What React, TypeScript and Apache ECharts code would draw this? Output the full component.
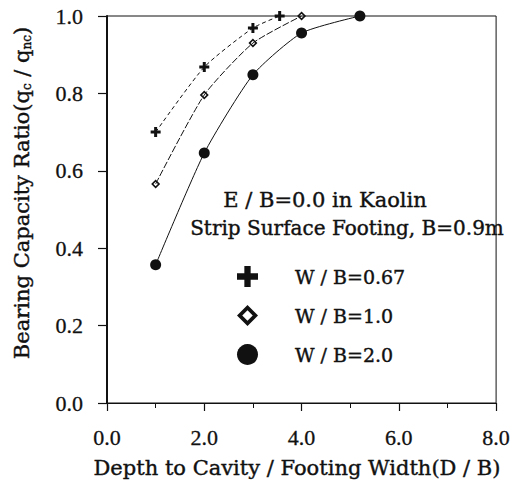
import React, { useEffect, useRef } from "react";
import * as echarts from "echarts";

const seriesNames = ["W / B=0.67", "W / B=1.0", "W / B=2.0"];
const plusX = [1.0, 2.0, 3.0, 3.55];
const plusY = [0.70, 0.868, 0.969, 1.0];
const diamondX = [1.0, 2.0, 3.0, 4.0];
const diamondY = [0.566, 0.796, 0.93, 1.0];
const circleX = [1.0, 2.0, 3.0, 4.0, 5.2];
const circleY = [0.357, 0.646, 0.848, 0.956, 1.0];
const noteLines = ["E / B=0.0 in Kaolin", "Strip Surface Footing, B=0.9m"];
const xTitle = "Depth to Cavity / Footing Width(D / B)";

const FONT = "DejaVu Serif";
const NUMFONT = "Liberation Serif";
const INK = "#111";

const PLUS = "path://M-3,-10 L3,-10 L3,-3 L10,-3 L10,3 L3,3 L3,10 L-3,10 L-3,3 L-10,3 L-10,-3 L-3,-3 Z";
const DIAMOND = "path://M0,-10 L10,0 L0,10 L-10,0 Z M0,-5 L-5,0 L0,5 L5,0 Z";

const zip = (xs: number[], ys: number[]) => xs.map((x, i) => [x, ys[i]]);

export default function App() {
  const ref = useRef<HTMLDivElement>(null);
  useEffect(() => {
    if (!ref.current) return;
    const chart = echarts.init(ref.current, null, { renderer: "svg" });
    const lineBase = {
      type: "line",
      smooth: 0.2,
      color: INK,
      itemStyle: { color: INK },
    };
    const txt = (text: string, x: number, y: number, size: number) => ({
      type: "text",
      x,
      y,
      style: {
        text,
        fontFamily: FONT,
        fontSize: size,
        fill: INK,
        stroke: INK,
        lineWidth: 0.4,
        align: "center",
        verticalAlign: "middle",
      },
    });
    chart.setOption({
      animation: false,
      backgroundColor: "#fff",
      textStyle: { fontFamily: FONT },
      grid: {
        left: 107,
        right: 16,
        top: 16,
        bottom: 78,
        show: true,
        borderColor: INK,
        borderWidth: 1,
      },
      xAxis: {
        type: "value",
        min: 0,
        max: 8,
        interval: 2,
        axisLine: { show: true, onZero: false, lineStyle: { color: INK, width: 1 } },
        axisTick: { show: true, length: 8, lineStyle: { color: INK, width: 1.2 } },
        minorTick: { show: true, splitNumber: 2, length: 5, lineStyle: { color: INK, width: 1 } },
        splitLine: { show: false },
        axisLabel: {
          margin: 23,
          color: INK,
          fontFamily: NUMFONT,
          fontSize: 22,
          textBorderColor: INK,
          textBorderWidth: 0.3,
          formatter: (v: number) => v.toFixed(1),
        },
      },
      yAxis: {
        type: "value",
        min: 0,
        max: 1,
        interval: 0.2,
        axisLine: { show: true, onZero: false, lineStyle: { color: INK, width: 2 } },
        axisTick: { show: true, length: 9, lineStyle: { color: INK, width: 1.2 } },
        splitLine: { show: false },
        axisLabel: {
          margin: 24,
          color: INK,
          fontFamily: NUMFONT,
          fontSize: 22,
          textBorderColor: INK,
          textBorderWidth: 0.3,
          formatter: (v: number) => v.toFixed(1),
        },
      },
      legend: {
        orient: "vertical",
        left: 232,
        top: 261,
        itemWidth: 21,
        itemHeight: 21,
        itemGap: 18,
        selectedMode: false,
        textStyle: {
          fontFamily: FONT,
          fontSize: 19,
          color: INK,
          textBorderColor: INK,
          textBorderWidth: 0.4,
          padding: [0, 0, 0, 32],
        },
        data: [
          { name: seriesNames[0], icon: PLUS },
          { name: seriesNames[1], icon: DIAMOND },
          { name: seriesNames[2], icon: "circle" },
        ],
      },
      graphic: [
        txt(noteLines[0], 325, 200, 21),
        txt(noteLines[1], 347, 228, 20),
        txt(xTitle, 297, 468, 21),
        {
          type: "text",
          x: 22,
          y: 193,
          rotation: Math.PI / 2,
          style: {
            text: "Bearing Capacity Ratio(q{sub|c} / q{sub|nc})",
            fontFamily: FONT,
            fontSize: 21,
            fill: INK,
            stroke: INK,
            lineWidth: 0.4,
            align: "center",
            verticalAlign: "middle",
            rich: {
              sub: { fontFamily: FONT, fontSize: 12, fill: INK, verticalAlign: "bottom", padding: [7, 0, 0, 0] },
            },
          },
        },
      ],
      series: [
        {
          ...lineBase,
          name: seriesNames[0],
          symbol: PLUS,
          symbolSize: 10,
          lineStyle: { color: INK, width: 1, type: [4, 3] },
          data: zip(plusX, plusY),
        },
        {
          ...lineBase,
          name: seriesNames[1],
          symbol: DIAMOND,
          symbolSize: 9,
          lineStyle: { color: INK, width: 1, type: [7, 2] },
          data: zip(diamondX, diamondY),
        },
        {
          ...lineBase,
          name: seriesNames[2],
          symbol: "circle",
          symbolSize: 11,
          lineStyle: { color: INK, width: 1 },
          data: zip(circleX, circleY),
        },
      ],
    });
    return () => chart.dispose();
  }, []);
  return <div ref={ref} style={{ width: 513, height: 481, position: "absolute", left: 0, top: 0 }} />;
}
